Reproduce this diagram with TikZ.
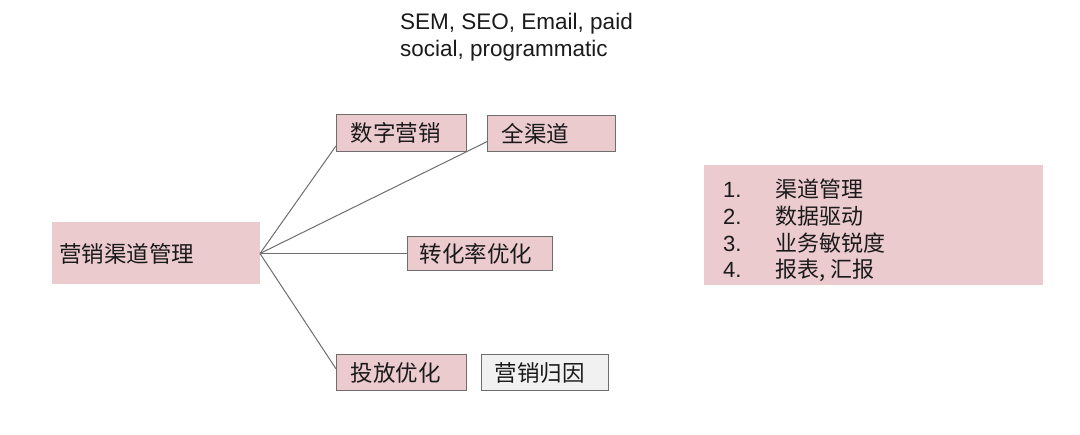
\documentclass[tikz,border=0pt]{standalone}
\usepackage{fontspec}
\setmainfont{Liberation Sans}
\newfontfamily\cjk{Noto Sans CJK SC}
\usetikzlibrary{calc}
\definecolor{pinkfill}{HTML}{EBCBCD}
\definecolor{grayfill}{HTML}{F1F1F1}
\definecolor{edgegray}{HTML}{6E6E6E}
\definecolor{txt}{HTML}{1A1A1A}
\begin{document}
\begin{tikzpicture}[x=1pt,y=-1pt,
  pbox/.style={draw=edgegray, line width=1pt, fill=pinkfill, anchor=north west,
    inner xsep=0pt, inner ysep=0pt, align=left, text=txt,
    font=\cjk\fontsize{22.5}{26}\selectfont},
  gbox/.style={pbox, fill=grayfill},
  link/.style={draw=edgegray, line width=1pt}]
\useasboundingbox (0,0) rectangle (1080,435);
\fill[white] (0,0) rectangle (1080,435);

% top label
\node[anchor=north west, align=left, text=txt, inner sep=0pt,
  font=\fontsize{22.5}{27}\selectfont] (top) at (400,13)
  {SEM, SEO, Email, paid\\social, programmatic};

% main box
\node[pbox, draw=none, minimum width=208pt, minimum height=62pt, text width=200pt]
  (main) at (51,222) {\hspace*{4pt}营销渠道管理};

% branches
\node[pbox, minimum width=130pt, minimum height=37pt, text width=122pt]
  (dm) at (336,114) {\hspace*{10pt}数字营销};
\node[pbox, minimum width=128pt, minimum height=36pt, text width=120pt]
  (qqd) at (487,115) {\hspace*{10pt}全渠道};
\node[pbox, minimum width=145pt, minimum height=34pt, text width=137pt]
  (zh) at (407,236) {\hspace*{8pt}转化率优化};
\node[pbox, minimum width=130pt, minimum height=36pt, text width=122pt]
  (tf) at (336,354) {\hspace*{10pt}投放优化};
\node[gbox, minimum width=127pt, minimum height=36pt, text width=119pt]
  (gy) at (481,354) {\hspace*{9pt}营销归因};

% right list box
\node[fill=pinkfill, anchor=north west, minimum width=339pt, minimum height=120pt, inner sep=0pt]
  (rbox) at (704,165) {};
\node[anchor=north west, inner sep=0pt, text=txt, font=\fontsize{22}{26.7}\selectfont]
  (rlist) at (723,179) {%
  \begin{tabular}{@{}p{52pt}@{}l@{}}
  1. & {\cjk 渠道管理}\\
  2. & {\cjk 数据驱动}\\
  3. & {\cjk 业务敏锐度}\\
  4. & {\cjk 报表, 汇报}
  \end{tabular}};

% connectors
\draw[link] (main.east) -- ($(dm.north west)!0.84!(dm.south west)$);
\draw[link] (main.east) -- ($(qqd.north west)!0.72!(qqd.south west)$);
\draw[link] (main.east) -- (zh.west);
\draw[link] (main.east) -- ($(tf.north west)!0.4!(tf.south west)$);
\end{tikzpicture}
\end{document}
